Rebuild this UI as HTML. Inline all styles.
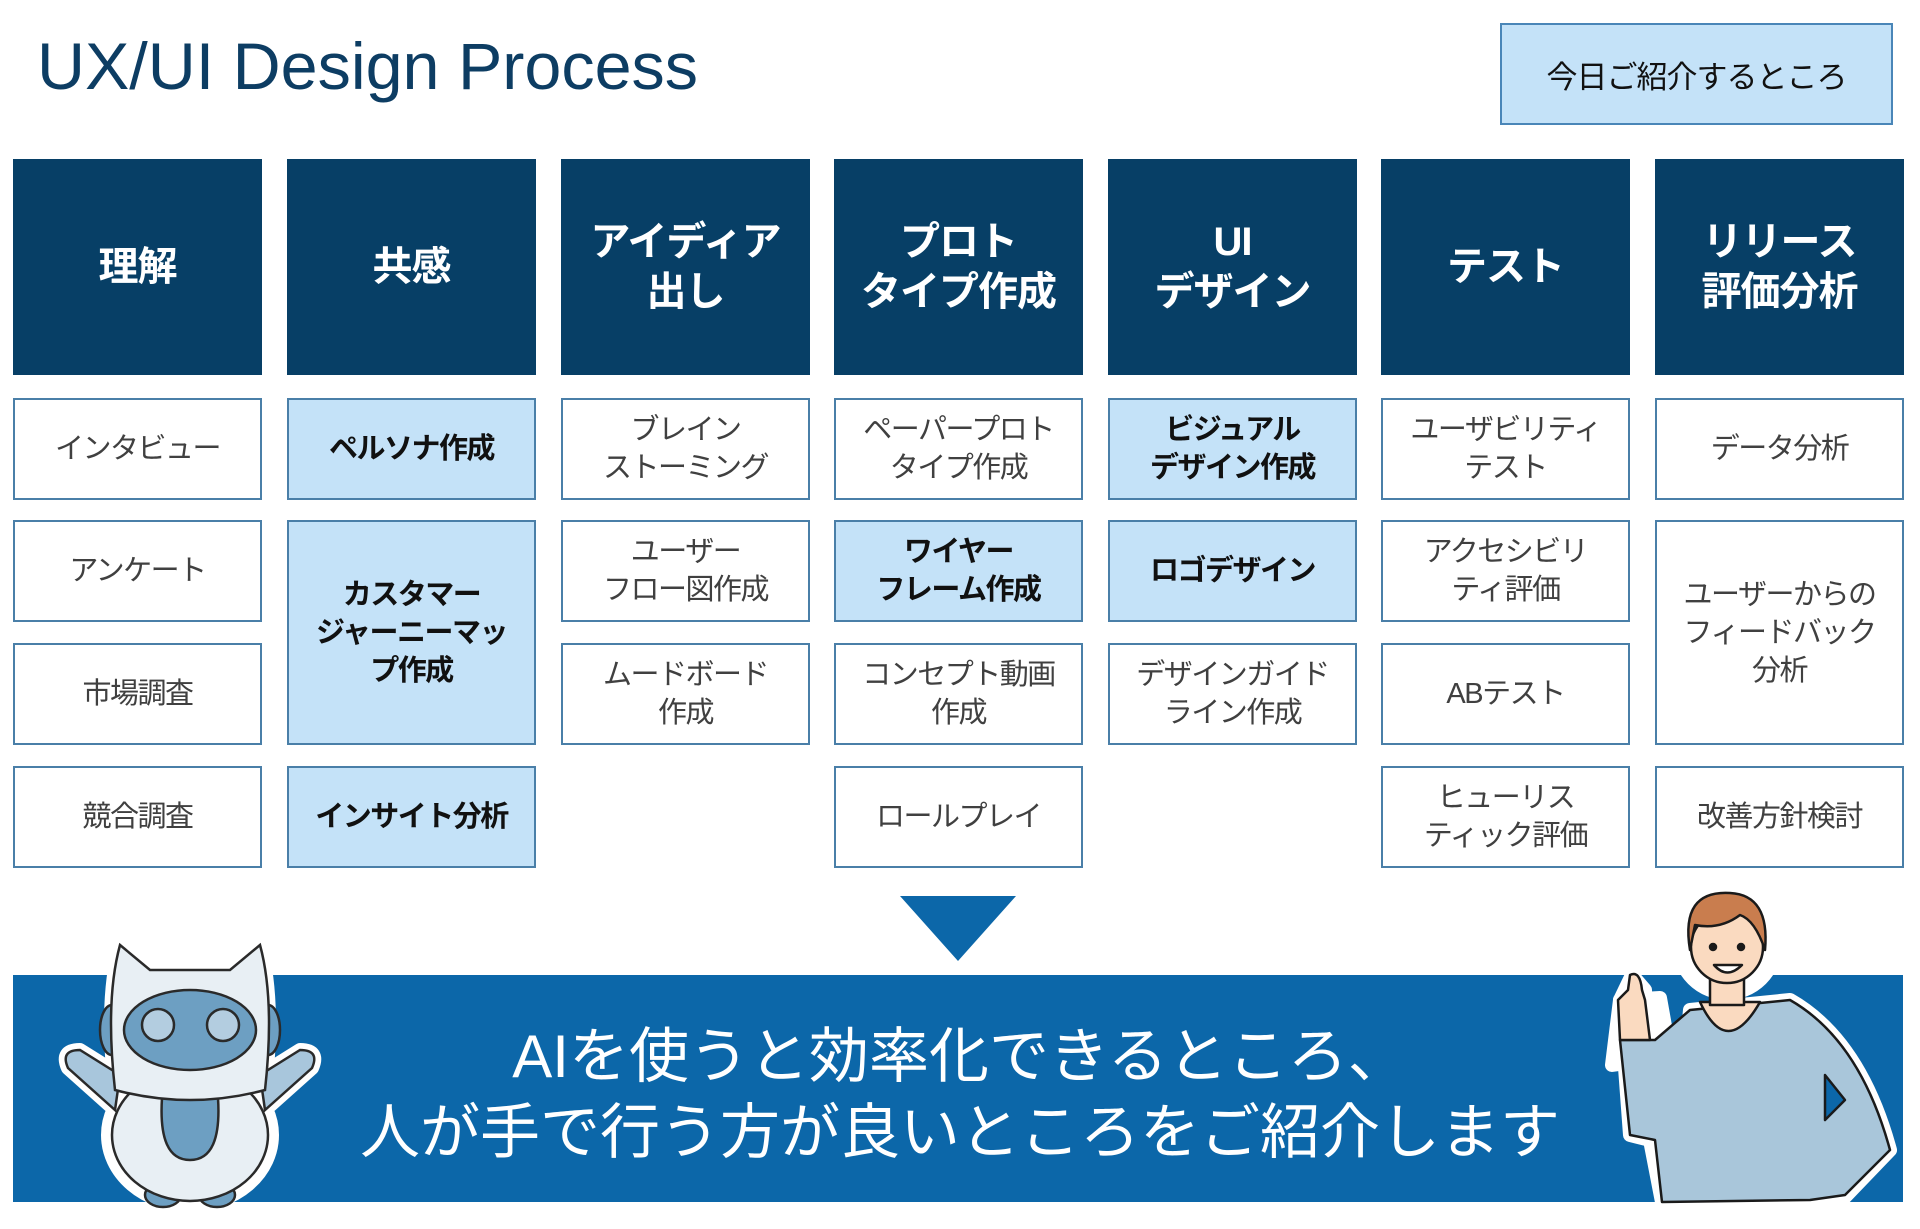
<!DOCTYPE html>
<html><head><meta charset="utf-8">
<style>
*{margin:0;padding:0;box-sizing:border-box}
body{width:1920px;height:1229px;background:#fff;position:relative;overflow:hidden;font-family:"Liberation Sans","Noto Sans CJK JP",sans-serif}
.h{position:absolute;background:#073f66;color:#fff;font-weight:bold;font-size:40px;line-height:50px;letter-spacing:-1px;display:flex;align-items:center;justify-content:center;text-align:center;width:249px;top:159px;height:216px}
.c{position:absolute;width:249px;border:2px solid #4a7fa8;background:#fff;color:#404040;font-size:29px;line-height:38px;letter-spacing:-1.5px;display:flex;align-items:center;justify-content:center;text-align:center}
.c.b{background:#c4e2f8;color:#111;font-weight:bold}
.t{position:absolute;left:1500px;top:23px;width:393px;height:102px;background:#c4e2f8;border:2px solid #4a86b8;display:flex;align-items:center;justify-content:center;font-size:31px;color:#111;letter-spacing:-1px}
.banner{position:absolute;left:13px;top:975px;width:1890px;height:227px;background:#0c67a9}
.bt{position:absolute;left:0;width:1920px;text-align:center;color:#fff;font-size:60px;line-height:70px}
</style></head><body>
<svg style="position:absolute;left:0;top:0" width="760" height="110"><text x="37" y="89" font-family="Liberation Sans, sans-serif" font-size="66" fill="#0d3d63" textLength="661" lengthAdjust="spacingAndGlyphs">UX/UI Design Process</text></svg>
<div class="t">今日ご紹介するところ</div>

<div class="h" style="left:13px">理解</div>
<div class="h" style="left:287px">共感</div>
<div class="h" style="left:561px">アイディア<br>出し</div>
<div class="h" style="left:834px">プロト<br>タイプ作成</div>
<div class="h" style="left:1108px">UI<br>デザイン</div>
<div class="h" style="left:1381px">テスト</div>
<div class="h" style="left:1655px">リリース<br>評価分析</div>

<div class="c" style="left:13px;top:398px;height:102px">インタビュー</div>
<div class="c" style="left:13px;top:520px;height:102px">アンケート</div>
<div class="c" style="left:13px;top:643px;height:102px">市場調査</div>
<div class="c" style="left:13px;top:766px;height:102px">競合調査</div>
<div class="c b" style="left:287px;top:398px;height:102px">ペルソナ作成</div>
<div class="c b" style="left:287px;top:520px;height:225px">カスタマー<br>ジャーニーマッ<br>プ作成</div>
<div class="c b" style="left:287px;top:766px;height:102px">インサイト分析</div>
<div class="c" style="left:561px;top:398px;height:102px">ブレイン<br>ストーミング</div>
<div class="c" style="left:561px;top:520px;height:102px">ユーザー<br>フロー図作成</div>
<div class="c" style="left:561px;top:643px;height:102px">ムードボード<br>作成</div>
<div class="c" style="left:834px;top:398px;height:102px">ペーパープロト<br>タイプ作成</div>
<div class="c b" style="left:834px;top:520px;height:102px">ワイヤー<br>フレーム作成</div>
<div class="c" style="left:834px;top:643px;height:102px">コンセプト動画<br>作成</div>
<div class="c" style="left:834px;top:766px;height:102px">ロールプレイ</div>
<div class="c b" style="left:1108px;top:398px;height:102px">ビジュアル<br>デザイン作成</div>
<div class="c b" style="left:1108px;top:520px;height:102px">ロゴデザイン</div>
<div class="c" style="left:1108px;top:643px;height:102px">デザインガイド<br>ライン作成</div>
<div class="c" style="left:1381px;top:398px;height:102px">ユーザビリティ<br>テスト</div>
<div class="c" style="left:1381px;top:520px;height:102px">アクセシビリ<br>ティ評価</div>
<div class="c" style="left:1381px;top:643px;height:102px">ABテスト</div>
<div class="c" style="left:1381px;top:766px;height:102px">ヒューリス<br>ティック評価</div>
<div class="c" style="left:1655px;top:398px;height:102px">データ分析</div>
<div class="c" style="left:1655px;top:520px;height:225px">ユーザーからの<br>フィードバック<br>分析</div>
<div class="c" style="left:1655px;top:766px;height:102px">改善方針検討</div>

<svg style="position:absolute;left:0;top:0" width="1920" height="1229">
<polygon points="900,896 1016,896 958,961" fill="#0c67a9"/>
</svg>
<div class="banner"></div>
<div class="bt" style="top:1022px">AIを使うと効率化できるところ、</div>
<div class="bt" style="top:1098px">人が手で行う方が良いところをご紹介します</div>

<svg style="position:absolute;left:0;top:0" width="1920" height="1229">
<g stroke="#fff" stroke-width="14" fill="#fff" stroke-linejoin="round">
<path d="M68,1068 Q60,1050 80,1050 L120,1075 L115,1110 Z"/>
<path d="M312,1068 Q320,1050 300,1050 L260,1075 L265,1110 Z"/>
<ellipse cx="190" cy="1135" rx="82" ry="70"/>
<path d="M115,1090 Q105,1000 120,945 L150,970 L230,970 L260,945 Q275,1000 265,1090 Q190,1110 115,1090Z"/>
</g>
<g stroke="#2a2a2a" stroke-width="2.5">
<path d="M68,1068 Q60,1050 80,1050 L120,1075 L115,1110 Z" fill="#a8c6dc"/>
<path d="M312,1068 Q320,1050 300,1050 L260,1075 L265,1110 Z" fill="#a8c6dc"/>
<ellipse cx="163" cy="1195" rx="18" ry="12" fill="#6d9fc2"/>
<ellipse cx="217" cy="1195" rx="18" ry="12" fill="#6d9fc2"/>
<ellipse cx="190" cy="1135" rx="78" ry="66" fill="#e8eff4"/>
<path d="M162,1098 L218,1098 Q222,1160 190,1160 Q158,1160 162,1098Z" fill="#6d9fc2"/>
<ellipse cx="112" cy="1030" rx="12" ry="25" fill="#6d9fc2"/>
<ellipse cx="268" cy="1030" rx="12" ry="25" fill="#6d9fc2"/>
<path d="M115,1090 Q105,1000 120,945 L150,970 L230,970 L260,945 Q275,1000 265,1090 Q190,1110 115,1090Z" fill="#e8eff4"/>
<ellipse cx="190" cy="1030" rx="66" ry="40" fill="#6d9fc2"/>
<circle cx="158" cy="1025" r="16" fill="#b3cde0"/>
<circle cx="223" cy="1025" r="16" fill="#b3cde0"/>
</g>
<g stroke="#fff" stroke-width="14" stroke-linejoin="round" fill="#fff">
<path d="M1620,1000 L1660,998 L1680,1110 L1690,1010 L1790,1000 Q1860,1040 1890,1150 L1842,1200 L1662,1202 L1650,1140 L1630,1135Z"/>
<circle cx="1727" cy="945" r="48"/>
<path d="M1612,1065 L1620,1000 L1632,975 L1645,990 L1648,1060Z"/>
</g>
<g stroke="#1a1a1a" stroke-width="2.5" stroke-linejoin="round">
<path d="M1620,1040 L1655,1040 L1690,1010 L1790,1000 Q1860,1040 1890,1150 L1845,1195 L1810,1200 L1662,1202 L1655,1140 L1630,1135Z" fill="#a9c6da"/>
<path d="M1700,1002 Q1727,1060 1760,1002Z" fill="#fadac0"/>
<rect x="1710" y="975" width="34" height="30" fill="#fadac0"/>
<circle cx="1727" cy="947" r="36" fill="#fadac0"/>
<path d="M1690,950 Q1680,890 1730,893 Q1770,895 1765,950 Q1755,920 1740,915 Q1720,930 1695,925Z" fill="#c97d4e"/>
<circle cx="1713" cy="947" r="3" fill="#1a1a1a"/>
<circle cx="1741" cy="947" r="3" fill="#1a1a1a"/>
<path d="M1714,965 Q1727,980 1742,965Z" fill="#fff"/>
<path d="M1620,1040 L1618,1000 L1628,990 L1630,975 Q1640,970 1642,990 L1645,1000 L1650,1040Z" fill="#fadac0"/>
<path d="M1825,1075 L1845,1100 L1825,1120Z" fill="#0c67a9"/>
</g>
</svg>
</body></html>
